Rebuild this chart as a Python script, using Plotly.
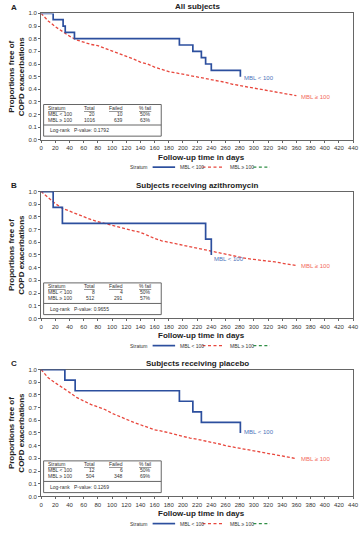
import plotly.graph_objects as go

W, H = 364, 535

# ---------------- data ----------------
panel_letters = ["A", "B", "C"]
panel_titles = ["All subjects", "Subjects receiving azithromycin", "Subjects receiving placebo"]

# MBL < 100 (Kaplan-Meier step curves)
low_t = [
    [0, 17, 31, 34, 47, 195, 214, 226, 232, 240, 281],
    [0, 17, 30, 232, 240],
    [0, 33.5, 48, 195, 214, 226, 281],
]
low_s = [
    [1.0, 0.95, 0.90, 0.85, 0.80, 0.75, 0.70, 0.65, 0.60, 0.55, 0.50],
    [1.0, 0.875, 0.75, 0.625, 0.50],
    [1.0, 0.917, 0.833, 0.75, 0.667, 0.583, 0.50],
]

# MBL >= 100 (read at 10-day points)
high_t = [0, 10, 20, 30, 40, 50, 60, 70, 80, 90, 100, 110, 120, 130, 140, 150, 160, 170, 180,
          190, 200, 210, 220, 230, 240, 250, 260, 270, 280, 290, 300, 310, 320, 330, 340, 350, 360]
high_s = [
    [1.0, 0.94, 0.895, 0.855, 0.82, 0.79, 0.77, 0.755, 0.745, 0.725, 0.70, 0.68, 0.665, 0.64, 0.615,
     0.60, 0.575, 0.555, 0.54, 0.53, 0.52, 0.51, 0.50, 0.49, 0.48, 0.47, 0.455, 0.44, 0.43, 0.42,
     0.41, 0.40, 0.39, 0.375, 0.37, 0.36, 0.35],
    [1.0, 0.95, 0.905, 0.868, 0.845, 0.82, 0.798, 0.78, 0.762, 0.75, 0.735, 0.72, 0.705, 0.69, 0.678,
     0.655, 0.63, 0.612, 0.60, 0.59, 0.58, 0.565, 0.558, 0.545, 0.532, 0.52, 0.505, 0.495, 0.485,
     0.472, 0.465, 0.46, 0.452, 0.445, 0.435, 0.425, 0.417],
    [1.0, 0.935, 0.895, 0.86, 0.82, 0.78, 0.75, 0.725, 0.705, 0.685, 0.655, 0.63, 0.61, 0.585, 0.565,
     0.545, 0.525, 0.515, 0.50, 0.485, 0.47, 0.46, 0.45, 0.44, 0.43, 0.415, 0.40, 0.39, 0.38, 0.37,
     0.355, 0.345, 0.335, 0.325, 0.315, 0.305, 0.298],
]

# label positions (data coords)
low_label_xy = [(284, 0.49), (241, 0.467), (284, 0.505)]
high_label_xy = [(364, 0.343), (364, 0.417), (364, 0.298)]

# inset tables
tab_total = [("20", "1016"), ("8", "512"), ("12", "504")]
tab_failed = [("10", "639"), ("4", "291"), ("6", "348")]
tab_pct = [("50%", "63%"), ("50%", "57%"), ("50%", "69%")]
pvalues = ["0.1792", "0.9655", "0.1269"]

x_ticks = list(range(0, 441, 20))
y_ticks = [0.0, 0.1, 0.2, 0.3, 0.4, 0.5, 0.6, 0.7, 0.8, 0.9, 1.0]

# ---------------- styling ----------------
BLUE = "#2c4f9e"
BLUE_TXT = "#4d72ba"
RED = "#e8473d"
RED_TXT = "#f26a5c"
GREEN = "#2f8f45"
TXT = "#333333"
FONT = "Liberation Sans, Arial, sans-serif"

# panel pixel geometry: (y px for value 1.0, y px for value 0.0)
panels_px = [(10.5, 138.5), (190.7, 319.0), (370.7, 499.0)]
X0, X1 = 40, 359


def py(px):
    return 1 - px / H


def pxx(px):
    return px / W


fig = go.Figure()
annotations = []
shapes = []

for i in range(3):
    k = "" if i == 0 else str(i + 1)
    xa, ya = "x" + k, "y" + k
    top, bot = panels_px[i]

    fig.add_trace(go.Scatter(
        x=high_t, y=high_s[i], mode="lines", xaxis=xa, yaxis=ya,
        line=dict(color=RED, width=1.3, dash="3px,2px"), showlegend=False,
        hoverinfo="skip"))
    fig.add_trace(go.Scatter(
        x=low_t[i], y=low_s[i], mode="lines", xaxis=xa, yaxis=ya,
        line=dict(color=BLUE, width=1.7, shape="hv"), showlegend=False,
        hoverinfo="skip"))

    axis_common = dict(showgrid=False, zeroline=False, showline=True, linecolor="#666666",
                       linewidth=1, mirror=True, ticks="outside", ticklen=2, tickwidth=1,
                       tickcolor="#666666", tickfont=dict(size=6, color=TXT, family=FONT),
                       layer="below traces", ticklabeloverflow="allow")
    fig.update_layout(**{
        ("xaxis" + k): dict(domain=[pxx(X0), pxx(X1)], range=[0, 440], tickvals=x_ticks,
                            anchor=ya, **axis_common),
        ("yaxis" + k): dict(domain=[py(bot), py(top)], range=[0, 1], tickvals=y_ticks,
                            tickformat=".1f", anchor=xa, **axis_common),
    })

    # panel letter and title
    annotations.append(dict(text="<b>%s</b>" % panel_letters[i], x=pxx(7), y=py(top - 6),
                            xref="paper", yref="paper", xanchor="left", yanchor="middle",
                            showarrow=False, font=dict(size=8, color="#222", family=FONT)))
    annotations.append(dict(text="<b>%s</b>" % panel_titles[i], x=pxx((X0 + X1) / 2), y=py(top - 6.5),
                            xref="paper", yref="paper", xanchor="center", yanchor="middle",
                            showarrow=False, font=dict(size=8, color="#222", family=FONT)))
    # y title
    annotations.append(dict(text="<b>Proportions free of<br>COPD exacerbations</b>",
                            x=pxx(15), y=py((top + bot) / 2), xref="paper", yref="paper",
                            xanchor="center", yanchor="middle", textangle=-90, showarrow=False,
                            font=dict(size=8, color="#222", family=FONT)))
    # x title
    annotations.append(dict(text="<b>Follow-up time in days</b>", x=pxx(203.5), y=py(bot + 17.5),
                            xref="paper", yref="paper", xanchor="center", yanchor="middle",
                            showarrow=False, font=dict(size=8, color="#222", family=FONT)))

    # curve end labels
    annotations.append(dict(text="MBL < 100", x=low_label_xy[i][0], y=low_label_xy[i][1],
                            xref=xa, yref=ya, xanchor="left", yanchor="middle", showarrow=False,
                            font=dict(size=6, color=BLUE_TXT, family=FONT)))
    annotations.append(dict(text="MBL ≥ 100", x=high_label_xy[i][0], y=high_label_xy[i][1],
                            xref=xa, yref=ya, xanchor="left", yanchor="middle", showarrow=False,
                            font=dict(size=6, color=RED_TXT, family=FONT)))

    # legend row
    ly = py(bot + 27.5)
    annotations.append(dict(text="Stratum", x=pxx(151), y=ly, xref="paper", yref="paper",
                            xanchor="right", yanchor="middle", showarrow=False,
                            font=dict(size=5, color=TXT, family=FONT)))
    shapes.append(dict(type="line", xref="paper", yref="paper", x0=pxx(154), x1=pxx(177),
                       y0=ly, y1=ly, line=dict(color=BLUE, width=1.7)))
    annotations.append(dict(text="MBL < 100", x=pxx(180), y=ly, xref="paper", yref="paper",
                            xanchor="left", yanchor="middle", showarrow=False,
                            font=dict(size=5, color=TXT, family=FONT)))
    shapes.append(dict(type="line", xref="paper", yref="paper", x0=pxx(205), x1=pxx(226),
                       y0=ly, y1=ly, line=dict(color=RED, width=1.3, dash="3px,2.5px")))
    annotations.append(dict(text="MBL ≥ 100", x=pxx(231), y=ly, xref="paper", yref="paper",
                            xanchor="left", yanchor="middle", showarrow=False,
                            font=dict(size=5, color=TXT, family=FONT)))
    shapes.append(dict(type="line", xref="paper", yref="paper", x0=pxx(257), x1=pxx(274),
                       y0=ly, y1=ly, line=dict(color=GREEN, width=1.3, dash="3px,2.5px")))

    # inset table
    xd, yd = xa + " domain", ya + " domain"
    shapes.append(dict(type="rect", xref=xd, yref=yd, x0=0.008, x1=0.385, y0=0.03, y1=0.28,
                       line=dict(color="#666666", width=1), fillcolor="white", layer="above"))
    shapes.append(dict(type="line", xref=xd, yref=yd, x0=0.008, x1=0.385, y0=0.118, y1=0.118,
                       line=dict(color="#666666", width=1), layer="above"))
    tf = dict(size=5, color=TXT, family=FONT)
    rows_y = [0.255, 0.205, 0.16]
    annotations.append(dict(text="<u>Stratum</u>", x=0.016, y=rows_y[0], xref=xd, yref=yd,
                            xanchor="left", yanchor="middle", showarrow=False, font=tf))
    annotations.append(dict(text="MBL < 100", x=0.016, y=rows_y[1], xref=xd, yref=yd,
                            xanchor="left", yanchor="middle", showarrow=False, font=tf))
    annotations.append(dict(text="MBL ≥ 100", x=0.016, y=rows_y[2], xref=xd, yref=yd,
                            xanchor="left", yanchor="middle", showarrow=False, font=tf))
    cols = [(0.18, "Total", tab_total[i]), (0.268, "Failed", tab_failed[i]),
            (0.357, "% fail", tab_pct[i])]
    for cx, head, vals in cols:
        annotations.append(dict(text="<u>%s</u>" % head, x=cx, y=rows_y[0], xref=xd, yref=yd,
                                xanchor="right", yanchor="middle", showarrow=False, font=tf))
        for r in range(2):
            annotations.append(dict(text=vals[r], x=cx, y=rows_y[r + 1], xref=xd, yref=yd,
                                    xanchor="right", yanchor="middle", showarrow=False, font=tf))
    annotations.append(dict(text="Log-rank   P-value: %s" % pvalues[i], x=0.021, y=0.078,
                            xref=xd, yref=yd, xanchor="left", yanchor="middle",
                            showarrow=False, font=tf))

fig.update_layout(
    width=W, height=H, margin=dict(l=0, r=0, t=0, b=0),
    paper_bgcolor="white", plot_bgcolor="white",
    showlegend=False, annotations=annotations, shapes=shapes,
    font=dict(family=FONT, color=TXT),
)

fig.write_html("out.html")
